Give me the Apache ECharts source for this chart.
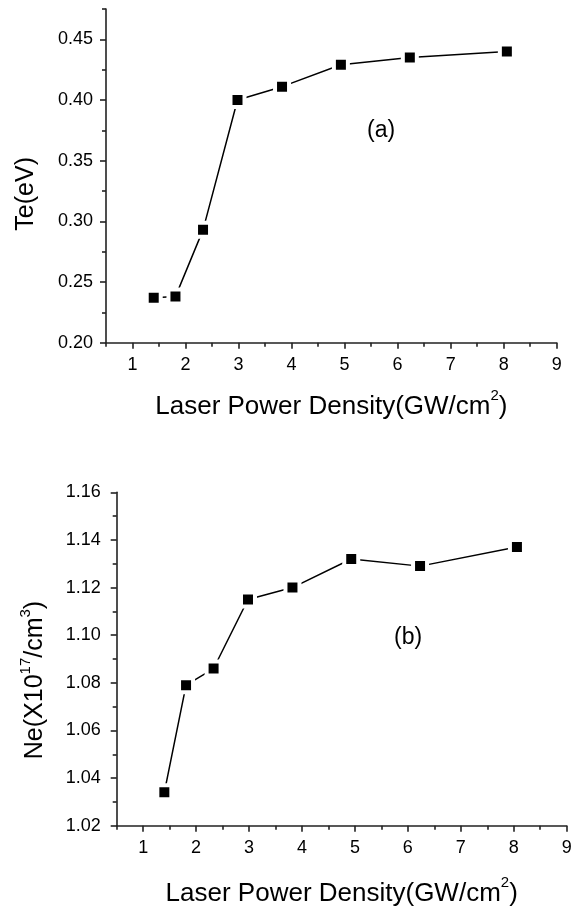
<!DOCTYPE html>
<html>
<head>
<meta charset="utf-8">
<script src="https://cdn.jsdelivr.net/npm/echarts@6/dist/echarts.min.js"></script>
<style>
html,body{margin:0;padding:0;background:#fff;}
#chart{width:576px;height:907px;}
</style>
</head>
<body>
<div id="chart"></div>
<script>
// ---- data ----
const powerDensity = [1.40, 1.81, 2.33, 2.98, 3.82, 4.93, 6.23, 8.06];
const teValues = [0.237, 0.238, 0.293, 0.400, 0.411, 0.429, 0.435, 0.440];
const neValues = [1.034, 1.079, 1.086, 1.115, 1.120, 1.132, 1.129, 1.137];

const xMajorTicks = [1, 2, 3, 4, 5, 6, 7, 8, 9];
const xMinorTicks = [0.5, 1.5, 2.5, 3.5, 4.5, 5.5, 6.5, 7.5, 8.5];
const teMajorTicks = [0.20, 0.25, 0.30, 0.35, 0.40, 0.45];
const teMinorTicks = [0.225, 0.275, 0.325, 0.375, 0.425, 0.475];
const neMajorTicks = [1.02, 1.04, 1.06, 1.08, 1.10, 1.12, 1.14, 1.16];
const neMinorTicks = [1.03, 1.05, 1.07, 1.09, 1.11, 1.13, 1.15];

const xTitle = 'Laser Power Density(GW/cm{sup|2})';
const teTitle = 'Te(eV)';
const neTitle = 'Ne(X10{sup|17}/cm{sup|3})';

// ---- styles ----
const FONT = 'Liberation Sans, Arial, sans-serif';
const AX = '#222';
const supRich = { sup: { fontSize: 15, lineHeight: 15, verticalAlign: 'top', fontFamily: FONT, color: '#000' } };

function xAxes(gridIndex, nameGap) {
  return [
    {
      type: 'value', gridIndex, position: 'bottom', min: 0.5, max: 9,
      name: xTitle, nameLocation: 'middle', nameGap,
      nameTextStyle: { fontSize: 26, lineHeight: 36, fontFamily: FONT, color: '#000', rich: supRich },
      axisLine: { show: true, onZero: false, lineStyle: { color: AX, width: 1.6 } },
      axisTick: { show: true, length: 6, customValues: xMajorTicks, lineStyle: { color: AX, width: 1.6 } },
      axisLabel: { show: true, customValues: xMajorTicks, margin: 13, fontSize: 18, fontFamily: FONT, color: '#000' },
      splitLine: { show: false }
    },
    {
      type: 'value', gridIndex, position: 'bottom', min: 0.5, max: 9,
      axisLine: { show: false, onZero: false },
      axisTick: { show: true, length: 4, customValues: xMinorTicks, lineStyle: { color: AX, width: 1.6 } },
      axisLabel: { show: false },
      splitLine: { show: false }
    }
  ];
}

function yAxes(gridIndex, min, max, major, minor, name, nameGap, namePad, labelMargin) {
  return [
    {
      type: 'value', gridIndex, position: 'left', min, max,
      name, nameLocation: 'middle', nameGap,
      nameTextStyle: { fontSize: 25, lineHeight: 32, fontFamily: FONT, color: '#000', rich: supRich, padding: namePad },
      axisLine: { show: true, onZero: false, lineStyle: { color: AX, width: 1.6 } },
      axisTick: { show: true, length: 6, customValues: major, lineStyle: { color: AX, width: 1.6 } },
      axisLabel: { show: true, customValues: major, margin: labelMargin, fontSize: 18, fontFamily: FONT, color: '#000',
        formatter: v => v.toFixed(2) },
      splitLine: { show: false }
    },
    {
      type: 'value', gridIndex, position: 'left', min, max,
      axisLine: { show: false, onZero: false },
      axisTick: { show: true, length: 4, customValues: minor, lineStyle: { color: AX, width: 1.6 } },
      axisLabel: { show: false },
      splitLine: { show: false }
    }
  ];
}

function seriesFor(xAxisIndex, yAxisIndex, values) {
  return {
    type: 'line', xAxisIndex, yAxisIndex,
    data: powerDensity.map((x, i) => [x, values[i]]),
    symbol: 'rect', symbolSize: 14,
    itemStyle: { color: '#000', borderColor: '#fff', borderWidth: 4 },
    lineStyle: { color: '#000', width: 1.5 },
    animation: false, silent: true
  };
}

const chart = echarts.init(document.getElementById('chart'), null, { renderer: 'canvas' });
chart.setOption({
  backgroundColor: '#fff',
  animation: false,
  grid: [
    { left: 106, top: 9, right: 19.3, bottom: 564.3, containLabel: false, outerBoundsMode: 'none' },
    { left: 116.7, top: 492.3, right: 9.3, bottom: 81.3, containLabel: false, outerBoundsMode: 'none' }
  ],
  xAxis: [...xAxes(0, 46), ...xAxes(1, 50)],
  yAxis: [
    ...yAxes(0, 0.2, 0.475, teMajorTicks, teMinorTicks, teTitle, 64, [0, 36, 0, 0], 13),
    ...yAxes(1, 1.02, 1.16, neMajorTicks, neMinorTicks, neTitle, 66, [0, 42, 0, 0], 16)
  ],
  series: [
    seriesFor(0, 0, teValues),
    seriesFor(2, 2, neValues)
  ],
  graphic: [
    { type: 'text', left: 367, top: 119, style: { text: '(a)', fontSize: 23, fontFamily: FONT, fill: '#000' } },
    { type: 'text', left: 394, top: 626, style: { text: '(b)', fontSize: 23, fontFamily: FONT, fill: '#000' } }
  ]
});
</script>
</body>
</html>
